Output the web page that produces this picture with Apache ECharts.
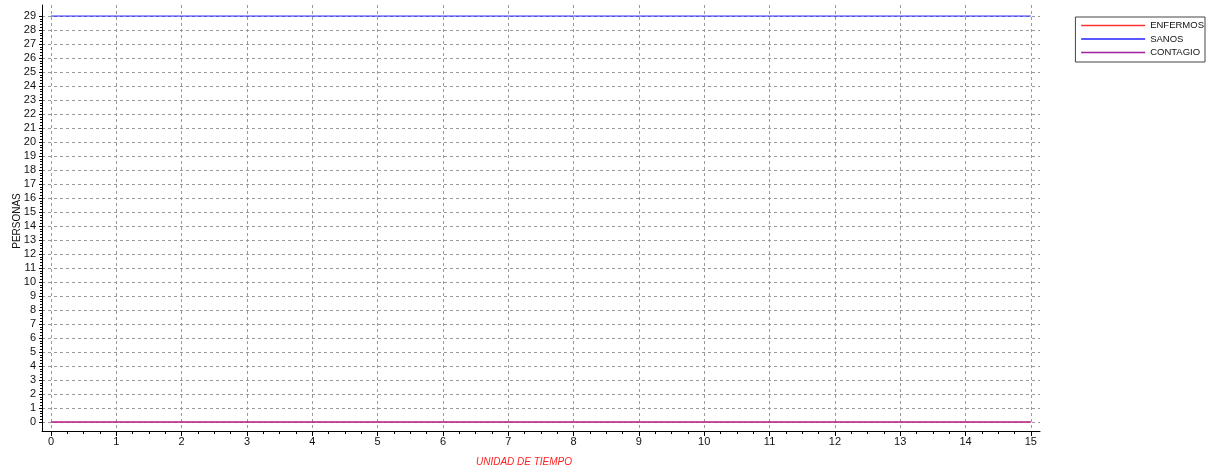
<!DOCTYPE html>
<html><head><meta charset="utf-8">
<script src="https://cdn.jsdelivr.net/npm/echarts@6/dist/echarts.min.js"></script>
<style>html,body{margin:0;padding:0;background:#fff}#c{width:1216px;height:468px}</style>
</head><body><div id="c"></div>
<script>
const timeSteps = [0,1,2,3,4,5,6,7,8,9,10,11,12,13,14,15];
const enfermos = [0,0,0,0,0,0,0,0,0,0,0,0,0,0,0,0];
const sanos = [29,29,29,29,29,29,29,29,29,29,29,29,29,29,29,29];
const contagio = [0,0,0,0,0,0,0,0,0,0,0,0,0,0,0,0];
const xTicks = [0,1,2,3,4,5,6,7,8,9,10,11,12,13,14,15];
const yTicks = [];
for (let i = 0; i <= 29; i++) yTicks.push(i);
const xMinor = [];
for (let i = 0; i < 15; i++) { xMinor.push(i + 0.25, i + 0.5, i + 0.75); }
const yMinor = [];
for (let i = 0; i < 29; i++) { yMinor.push(i + 0.2, i + 0.4, i + 0.6, i + 0.8); }

const font = 'Liberation Sans, Arial, sans-serif';
const chart = echarts.init(document.getElementById('c'));
const pairs = arr => timeSteps.map((t, i) => [t, arr[i]]);
const gridLine = {show: true, lineStyle: {color: '#9a9a9a', type: [3, 3], width: 1}};
chart.setOption({
  animation: false,
  grid: {left: 42, right: 176, top: 5, bottom: 37, containLabel: false, outerBoundsMode: 'none'},
  title: {text: 'UNIDAD DE TIEMPO', left: 519, top: 452, textAlign: 'center',
    textStyle: {color: '#ff2020', fontSize: 10, fontStyle: 'italic', fontWeight: 'normal', fontFamily: font}},
  graphic: [{
    type: 'text', x: 17, y: 221, rotation: Math.PI / 2,
    style: {text: 'PERSONAS', fill: '#111', font: '10px ' + font, textAlign: 'center', textVerticalAlign: 'middle'}
  }],
  legend: {
    orient: 'vertical', right: 11, top: 17, itemWidth: 64, itemHeight: 11, itemGap: 2.5,
    borderColor: '#444', borderWidth: 1, padding: [3, 1, 4, 5],
    itemStyle: {opacity: 0},
    textStyle: {fontSize: 9.5, lineHeight: 11, color: '#111', fontFamily: font},
    data: [
      {name: 'ENFERMOS', lineStyle: {color: '#ff3030', width: 1.5}},
      {name: 'SANOS', lineStyle: {color: '#2020ff', width: 1.5}},
      {name: 'CONTAGIO', lineStyle: {color: '#a020a0', width: 1.5, opacity: 1}}
    ]
  },
  xAxis: [{
    type: 'value', min: -0.138, max: 15.14,
    axisLine: {show: true, onZero: false, lineStyle: {color: '#000', width: 1}},
    axisTick: {show: true, customValues: xTicks, length: 5, lineStyle: {color: '#000'}},
    axisLabel: {show: true, customValues: xTicks, color: '#111', fontSize: 11, fontFamily: font, margin: 5},
    splitLine: gridLine
  }, {
    type: 'value', min: -0.138, max: 15.14, position: 'bottom',
    axisLine: {show: false, onZero: false},
    axisTick: {show: true, customValues: xMinor, length: 3, lineStyle: {color: '#000'}},
    axisLabel: {show: false}, splitLine: {show: false}
  }],
  yAxis: [{
    type: 'value', min: -0.64, max: 29.79,
    axisLine: {show: true, onZero: false, lineStyle: {color: '#000', width: 1}},
    axisTick: {show: true, customValues: yTicks, length: 3, lineStyle: {color: '#000'}},
    axisLabel: {show: true, customValues: yTicks, color: '#111', fontSize: 11, fontFamily: font, margin: 6},
    splitLine: gridLine
  }, {
    type: 'value', min: -0.64, max: 29.79, position: 'left',
    axisLine: {show: false, onZero: false},
    axisTick: {show: true, customValues: yMinor, length: 2, lineStyle: {color: '#000'}},
    axisLabel: {show: false}, splitLine: {show: false}
  }],
  series: [
    {name: 'ENFERMOS', type: 'line', data: pairs(enfermos), showSymbol: false, symbol: 'none',
     lineStyle: {color: '#ff3333', width: 1}, itemStyle: {color: '#ff3333'}},
    {name: 'SANOS', type: 'line', data: pairs(sanos), showSymbol: false, symbol: 'none',
     lineStyle: {color: '#2020ff', width: 1}, itemStyle: {color: '#2020ff'}},
    {name: 'CONTAGIO', type: 'line', data: pairs(contagio), showSymbol: false, symbol: 'none',
     lineStyle: {color: '#a020a0', width: 1.5, opacity: 0.8}, itemStyle: {color: '#a020a0'}}
  ]
});
</script></body></html>
